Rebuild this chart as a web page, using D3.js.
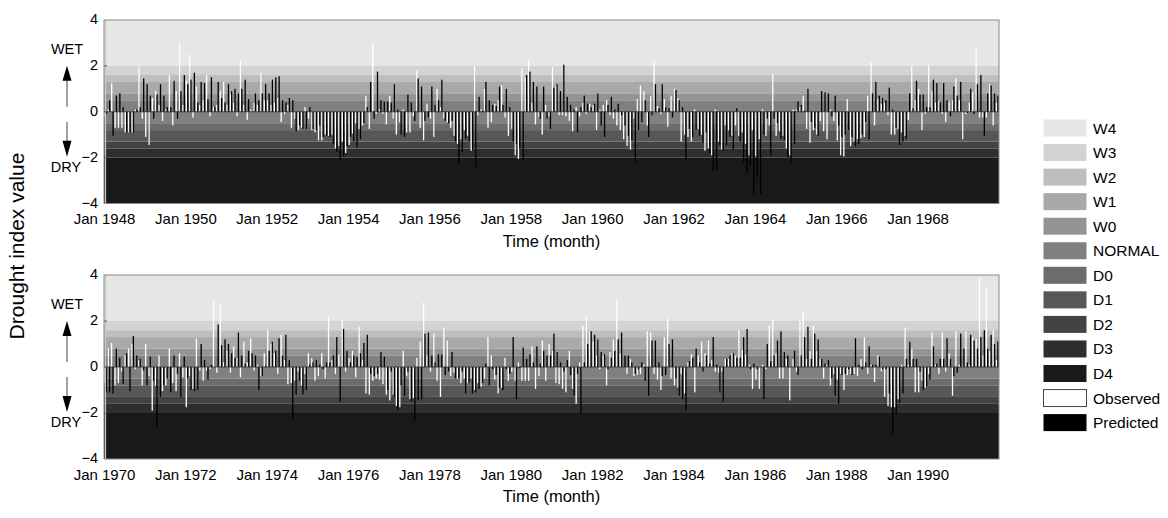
<!DOCTYPE html>
<html>
<head>
<meta charset="utf-8">
<script src="https://cdn.jsdelivr.net/npm/d3@7"></script>
<style>
  body { margin: 0; background: #fff; }
  svg { display: block; font-family: "Liberation Sans", Arial, sans-serif; }
</style>
</head>
<body>
<svg id="chart" width="1168" height="518"></svg>
<script>
// Monthly drought index, Jan 1948 - Dec 1969
const observed1948 = [
  -0.2, 0.1, 1.25, -0.7, -0.7, -0.7, -0.9, -0.9, -0.9, 0.1, 1.95, -0.3,
  -1.1, -1.45, 0.6, 0.9, 0.3, -0.4, 0.1, 1.6, -0.6, 0.9, 3.0, 0.3,
  1.35, 2.5, -0.25, 1.1, 0.3, 0.5, 1.6, -0.2, 0.2, 0.3, 0.9, 1.3,
  0.3, 0.75, 0.4, -0.2, 2.25, 0.3, -0.35, 0.1, 0.4, 0.3, 1.7, 0.5,
  0.5, 0.3, 0.4, 0.6, -0.45, -0.1, 0.3, -0.7, -0.3, -0.8, -0.7, 0.2,
  -0.3, -0.8, -0.9, -1.25, -1.25, -1.0, -1.05, -1.0, -1.6, -1.5, -1.3, -1.8,
  -1.45, -0.95, -0.5, -0.75, -0.6, 0.7, -0.75, 3.0, -0.1, 0.1, -0.1, -0.55,
  0.7, -0.3, -1.0, -0.45, 0.1, -0.9, -0.9, -0.2, 1.8, -0.7, -1.25, 0.35,
  -0.3, -1.1, 1.0, 0.2, -0.3, -0.45, -0.7, -1.05, -1.4, -1.2, -0.8, -1.05,
  -1.7, 2.0, -0.15, 0.1, 1.0, -0.7, -0.45, 0.35, 0.5, 1.15, -0.25, -1.05,
  -0.75, -1.9, -2.05, 1.9, 1.5, 2.25, 0.4, -0.55, -0.25, -1.0, 0.3, -0.2,
  1.95, 1.1, -0.15, -0.15, -0.2, -0.4, -0.85, 0.2, -0.2, 0.4, -0.1, 0.35,
  0.3, -0.8, 0.1, 0.3, 0.5, -0.15, -0.3, -0.6, -0.8, -1.2, -1.5, -1.65,
  -0.3, 0.55, 1.15, 0.9, -0.6, 0.7, 2.2, 0.25, -0.1, 0.55, -0.65, 0.7,
  1.0, 0.6, -1.3, -1.0, -1.1, -1.3, 0.1, -0.75, -1.0, -1.7, -1.6, -1.9,
  0.1, -1.3, -1.65, -0.6, -0.8, -1.05, -0.6, -1.05, -0.9, -1.4, -1.9, -0.8,
  -1.95, -1.2, 0.1, -1.05, -0.6, 1.65, -1.05, -0.85, -1.05, -1.6, -1.9, 0.1,
  0.1, 0.2, 0.7, -0.75, -1.35, -0.8, -1.0, -0.4, -0.85, -1.2, 0.1, -0.4,
  -1.25, -1.9, -1.95, 0.55, -1.5, -1.3, -1.2, -1.15, -1.1, 0.7, 2.15, -0.6,
  0.55, 0.35, 0.4, -0.15, -1.0, -1.0, -0.75, -0.9, -1.05, -0.35, 2.0, 0.5,
  1.0, -0.8, -0.1, 2.05, 0.9, 0.4, 0.45, -0.1, -0.45, 0.45, 0.5, 1.45,
  0.5, -1.2, -0.1, 0.4, 0.85, 2.75, -0.25, -0.25, -0.25, 1.2, -0.6, 0.4
];
const predicted1948 = [
  -0.1, 0.5, -1.05, 0.7, 0.8, 0.2, -0.9, -0.9, -0.9, 0.1, 0.2, 1.45,
  1.2, 0.7, -0.3, 0.75, 1.2, 0.7, 0.2, 0.2, 1.35, -0.3, 0.9, 1.6,
  1.2, 1.4, 1.7, 0.4, 1.3, 1.25, 0.55, 1.5, 0.2, 1.3, 0.6, 0.4,
  1.2, 0.9, 1.0, 0.8, 1.0, 1.4, 0.55, 0.0, 0.8, 0.5, 0.8, 1.2,
  0.8, 1.4, 1.5, 1.55, 0.5, 0.4, 0.6, 0.5, -0.85, -0.6, -0.75, -0.75,
  0.2, -0.75, -0.8, -0.6, -1.1, -1.05, -1.1, -1.4, -1.75, -2.1, -1.95, -1.5,
  -1.1, -1.3, -1.55, -1.2, -0.5, 0.2, 1.3, -0.3, 1.75, 0.5, 0.45, 0.45,
  0.4, 1.2, 0.1, -1.0, -1.1, 0.75, 0.4, -0.4, 1.45, 1.1, -0.4, -0.25,
  1.1, 0.3, 0.5, 1.4, -0.4, -0.5, -0.4, -1.3, -2.25, -1.75, -1.2, -1.3,
  -1.65, -2.4, 0.65, 0.05, 1.3, 0.5, 0.3, 0.25, 1.1, 0.3, 1.0, 0.2,
  -1.3, -1.4, -1.6, -2.1, 1.6, 1.75, 1.3, 1.1, -0.3, 1.1, -0.3, -0.75,
  1.05, 1.2, 0.9, 2.05, 0.65, 0.3, 0.1, -0.9, 0.2, 0.7, 0.35, 0.2,
  0.35, 0.8, -0.6, -1.1, 0.3, 0.65, 0.1, 0.35, -0.15, -0.6, -1.05, -1.25,
  -2.2, -0.8, -0.45, 0.5, -1.1, -0.15, 1.2, 0.15, 1.2, 0.2, 0.15, -0.25,
  0.95, 0.5, 0.2, -2.1, -0.75, -1.1, -0.8, -1.05, -1.35, -0.9, -1.8, -2.55,
  -2.55, -1.45, -1.7, -1.45, -1.1, -1.65, 0.15, -1.3, -2.2, -2.7, -2.35, -3.6,
  -2.85, -3.6, -1.0, -0.3, -1.9, -0.3, -0.5, -1.2, -1.25, -2.0, -2.25, -1.4,
  0.45, 0.3, 0.05, 1.0, -0.45, -0.7, -1.05, 0.9, 0.85, 0.8, -0.2, 0.7,
  -0.6, -1.1, -1.0, -0.8, -1.1, -1.5, -1.4, -1.0, -0.45, -1.2, 0.8, 1.3,
  0.7, 0.6, 0.5, 1.05, 0.1, -0.7, -1.45, -1.3, -1.2, 0.8, 0.15, 1.35,
  0.75, 0.75, 0.2, 0.2, 1.4, 1.25, 0.4, 1.25, 0.5, -0.2, 1.1, 0.7,
  1.3, 0.0, -0.05, 1.0, -0.1, 1.2, 1.6, -1.05, 0.8, 1.15, 0.8, 0.7
];

// Monthly drought index, Jan 1970 - Dec 1991
const observed1970 = [
  -0.7, 0.8, 1.05, -0.8, -0.7, -0.2, 0.5, 0.8, 1.0, -0.1, 0.3, -0.8,
  1.0, -0.4, -1.9, -0.8, 0.5, -1.05, -0.8, 0.8, -0.7, -1.05, 0.6, -0.45,
  -1.75, -0.4, -0.95, 1.25, -0.15, -0.6, -0.15, -0.1, 2.85, -0.25, 2.7, 0.2,
  0.7, -0.25, 0.9, 0.4, -0.45, 1.1, 0.2, 1.25, -0.15, 0.1, -0.4, 0.6,
  1.6, 1.0, 0.6, -0.3, 1.4, 0.3, -0.75, -0.7, -0.6, -0.2, -0.8, -0.3,
  0.6, 0.4, -0.6, -0.4, 0.6, -0.5, 2.2, 0.3, -0.3, 0.55, 2.05, -0.2,
  0.4, 0.7, -0.45, 1.75, 0.3, -1.15, -1.2, -0.6, -0.5, -0.55, -0.75, -1.2,
  -1.45, -1.2, -1.7, -1.75, 0.7, -0.4, -1.4, -1.35, 0.4, 1.1, 2.8, 0.5,
  -0.2, 1.45, -0.6, -1.3, 1.7, 1.15, -0.4, -0.25, -0.5, -0.7, -0.5, -0.7,
  -0.5, -1.0, -0.7, -0.85, -0.5, 1.3, 0.5, -0.55, -1.15, -0.9, 0.4, -0.6,
  -0.2, -0.6, 0.2, -0.6, -0.6, -0.6, 0.9, -0.95, -0.4, 1.15, -0.6, 1.0,
  0.7, -0.7, -0.75, -0.95, -1.1, 0.7, -0.95, -1.6, 0.2, 1.8, 2.15, 1.55,
  1.1, 0.5, -0.1, 0.5, -0.8, 0.65, 1.2, 2.9, 0.6, 0.0, -0.3, 0.35,
  -0.4, -0.35, -0.3, 0.1, 1.55, 1.5, -0.3, -0.55, -1.0, 1.3, 2.1, -0.5,
  -0.8, -0.9, -0.3, -1.15, 0.2, 0.55, -1.1, 0.5, 1.1, 0.6, 1.15, 0.3,
  -0.2, -0.25, -0.2, 0.35, 0.35, 0.6, 0.5, 1.6, 0.75, 0.55, 0.1, -0.95,
  -0.55, -0.95, 0.1, -0.1, 1.8, 2.05, 0.6, -0.5, -0.5, 0.35, -1.45, 0.35,
  -0.2, 2.0, 2.4, 0.35, 0.7, 1.8, 0.7, 0.35, -0.5, 0.1, -0.8, -0.3,
  -0.55, -0.3, -1.0, -0.35, -0.3, -0.3, -0.4, 0.35, 1.3, -0.3, 0.1, -0.65,
  0.5, -0.2, -1.3, -1.7, -1.75, -1.75, -1.4, 0.1, 1.7, 0.1, 0.8, -1.1,
  -1.1, -0.6, -0.9, -0.3, 1.5, 0.1, -0.3, 1.5, -0.2, 0.6, -1.25, 1.55,
  0.1, 0.05, 1.55, 0.1, 1.3, 1.25, 3.9, 0.5, 3.4, 0.7, 1.6, 0.3
];
const predicted1970 = [
  -1.1, -1.1, -1.15, 0.8, 0.4, -0.75, 0.6, -1.05, 1.35, 0.5, 0.35, -0.15,
  -0.8, 0.45, -0.6, -2.6, -1.3, -0.8, -0.5, -1.1, 0.5, -0.3, -1.3, 0.45,
  -0.5, -1.0, -1.05, -1.0, 1.0, 0.3, -0.55, 0.1, 0.0, 1.85, 0.95, 1.2,
  1.0, 0.6, 0.4, 1.5, 0.5, 0.15, 0.7, 0.6, 0.5, -1.0, -0.4, 0.05,
  0.7, 1.1, 0.7, 1.25, 0.5, 1.4, 0.3, -2.25, -1.2, -0.6, -1.2, -1.0,
  0.1, 0.2, 0.3, 0.1, -0.1, 0.2, 0.2, 0.5, 1.3, -1.5, 1.65, 0.7,
  0.2, 0.5, 0.45, 0.6, 1.05, 1.4, -0.3, -0.4, -0.3, 0.65, 0.45, -1.0,
  -0.2, -1.3, -1.85, -0.8, -1.25, -0.2, -1.5, -2.35, -1.45, -1.4, 1.45, 1.5,
  0.5, 0.2, 0.55, 0.55, -0.35, -0.2, 0.65, -0.5, -0.5, -0.2, -1.15, -0.7,
  -1.15, -1.1, -0.95, -0.7, 0.15, -0.8, -0.1, -0.35, -0.9, -1.0, -0.1, -0.3,
  1.3, -1.4, -0.05, 0.85, 0.35, 0.55, 0.2, 0.9, 0.15, 0.7, 0.5, 0.5,
  1.45, 0.65, 0.2, -0.2, 0.3, -0.35, -1.25, -0.3, -2.05, 0.2, 1.0, 1.55,
  1.4, 1.2, 0.65, 0.55, -0.1, 0.4, 0.7, 1.2, 1.5, 0.5, 0.5, 0.2,
  -0.3, -0.1, 0.2, -0.6, -1.25, 1.15, 1.15, 0.2, -0.4, -0.35, 1.0, 1.2,
  -0.5, -1.25, -1.4, -1.9, 0.25, 0.4, 0.8, 0.2, -0.2, 0.5, 0.15, 1.3,
  0.1, -1.1, -1.5, 0.35, 0.5, 0.6, 0.4, 0.4, 1.3, 1.65, -0.1, 0.15,
  -0.1, 0.0, -1.4, 1.0, 0.25, 0.5, 1.15, 1.55, 0.65, 0.5, 0.0, 0.7,
  -0.35, 0.5, 1.3, 1.75, 0.35, 1.45, 1.2, 0.35, 0.15, 0.3, -0.5, -1.25,
  -1.6, -0.35, -0.3, -0.1, -0.35, 1.25, 0.1, -0.1, 0.2, 0.9, 0.1, 0.1,
  0.45, -0.1, -0.1, -1.15, -2.9, -2.05, -1.55, -1.15, 0.35, 1.1, 0.35, 0.35,
  -0.2, -1.0, -0.85, -0.55, 0.9, 0.15, 0.35, 0.35, 1.25, 0.35, -0.4, -0.25,
  1.45, 0.8, 0.2, 1.4, 1.15, 0.8, 1.3, 1.6, 0.8, 1.4, 1.0, 1.1
];

// Drought / wetness classes and their index ranges
const classNames = ["W4", "W3", "W2", "W1", "W0", "NORMAL", "D0", "D1", "D2", "D3", "D4"];
const classUpper = [4, 2.0, 1.6, 1.3, 0.8, 0.5, -0.5, -0.8, -1.3, -1.6, -2.0];
const classLower = [2.0, 1.6, 1.3, 0.8, 0.5, -0.5, -0.8, -1.3, -1.6, -2.0, -4];
const yTickValues = [-4, -2, 0, 2, 4];
const startYears = [1948, 1970];

// Grey ramp for the class bands
const classColors = ["#e6e6e6", "#d3d3d3", "#bebebe", "#a9a9a9", "#949494", "#808080",
                     "#6c6c6c", "#575757", "#434343", "#2e2e2e", "#191919"];

const svg = d3.select("#chart");
const TICK_FONT = 15;
const plotLeft = 104, plotRight = 999;

const panels = [
  { start: startYears[0], obs: observed1948, pred: predicted1948, top: 20, bottom: 203.5 },
  { start: startYears[1], obs: observed1970, pred: predicted1970, top: 275, bottom: 459 }
];

panels.forEach(p => {
  const months = p.obs.map((_, i) => new Date(Date.UTC(p.start, i, 1)));
  const x = d3.scaleUtc()
    .domain([new Date(Date.UTC(p.start, 0, 1)), new Date(Date.UTC(p.start + 22, 0, 1))])
    .range([plotLeft, plotRight]);
  const y = d3.scaleLinear().domain([-4, 4]).range([p.bottom, p.top]);
  const g = svg.append("g");

  // class bands
  g.selectAll("rect.band").data(classNames).join("rect")
    .attr("class", "band")
    .attr("x", plotLeft)
    .attr("width", plotRight - plotLeft)
    .attr("y", (d, i) => y(classUpper[i]))
    .attr("height", (d, i) => y(classLower[i]) - y(classUpper[i]))
    .attr("fill", (d, i) => classColors[i]);

  const monthW = i => x(d3.utcMonth.offset(months[i], 1)) - x(months[i]);

  // observed (white) and predicted (black) bars, side by side in each month
  g.selectAll("rect.obs").data(p.obs).join("rect")
    .attr("class", "obs")
    .attr("x", (d, i) => x(months[i]) + monthW(i) * 0.1)
    .attr("width", (d, i) => monthW(i) * 0.38)
    .attr("y", d => y(Math.max(0, d)))
    .attr("height", d => Math.abs(y(d) - y(0)))
    .attr("fill", "#ffffff");

  g.selectAll("rect.pred").data(p.pred).join("rect")
    .attr("class", "pred")
    .attr("x", (d, i) => x(months[i]) + monthW(i) * 0.5)
    .attr("width", (d, i) => monthW(i) * 0.38)
    .attr("y", d => y(Math.max(0, d)))
    .attr("height", d => Math.abs(y(d) - y(0)))
    .attr("fill", "#000000");

  // zero line
  g.append("line")
    .attr("x1", plotLeft).attr("x2", plotRight)
    .attr("y1", y(0)).attr("y2", y(0))
    .attr("stroke", "#2a2a2a").attr("stroke-width", 0.8);

  // frame, with a light inner edge along the left side
  g.append("line")
    .attr("x1", plotLeft + 1.5).attr("x2", plotLeft + 1.5)
    .attr("y1", p.top).attr("y2", p.bottom)
    .attr("stroke", "#c8c8c8").attr("stroke-width", 1.2);
  g.append("rect")
    .attr("x", plotLeft).attr("y", p.top)
    .attr("width", plotRight - plotLeft).attr("height", p.bottom - p.top)
    .attr("fill", "none").attr("stroke", "#8a8a8a").attr("stroke-width", 1);

  // y axis
  const yAxis = d3.axisLeft(y).tickValues(yTickValues).tickSize(0).tickPadding(6).tickFormat(d3.format("d"));
  const ya = g.append("g").attr("transform", `translate(${plotLeft},0)`).call(yAxis);
  ya.select(".domain").remove();
  ya.selectAll("text").attr("font-size", 14.5).attr("fill", "#000").attr("dy", "0.26em")
    .attr("font-family", "Liberation Sans, Arial, sans-serif");
  g.selectAll("line.ytick").data(yTickValues.slice(1, -1)).join("line")
    .attr("class", "ytick")
    .attr("x1", plotLeft).attr("x2", plotLeft + 3)
    .attr("y1", d => y(d)).attr("y2", d => y(d))
    .attr("stroke", "#555");

  // x axis
  const xTicks = d3.range(0, 22, 2).map(k => new Date(Date.UTC(p.start + k, 0, 1)));
  const xAxis = d3.axisBottom(x).tickValues(xTicks).tickSize(0).tickPadding(10)
    .tickFormat(d3.utcFormat("Jan %Y"));
  const xa = g.append("g").attr("transform", `translate(0,${p.bottom})`).call(xAxis);
  xa.select(".domain").remove();
  xa.selectAll("text").attr("font-size", TICK_FONT).attr("fill", "#000")
    .attr("font-family", "Liberation Sans, Arial, sans-serif");

  g.append("text")
    .attr("x", (plotLeft + plotRight) / 2).attr("y", p.bottom + 43)
    .attr("text-anchor", "middle").attr("font-size", 16.5)
    .text("Time (month)");

  // WET / DRY direction markers
  const y0 = y(0);
  const ax = 67;
  g.append("text").attr("x", ax).attr("y", y0 - 58).attr("text-anchor", "middle")
    .attr("font-size", 14.5).text("WET");
  g.append("text").attr("x", ax - 1).attr("y", y0 + 60).attr("text-anchor", "middle")
    .attr("font-size", 14.5).text("DRY");
  g.append("line").attr("x1", ax).attr("x2", ax).attr("y1", y0 - 5).attr("y2", y0 - 32)
    .attr("stroke", "#444").attr("stroke-width", 1);
  g.append("path")
    .attr("d", `M${ax},${y0 - 46} L${ax - 4.5},${y0 - 31} L${ax + 4.5},${y0 - 31} Z`)
    .attr("fill", "#000");
  g.append("line").attr("x1", ax).attr("x2", ax).attr("y1", y0 + 10).attr("y2", y0 + 30)
    .attr("stroke", "#444").attr("stroke-width", 1);
  g.append("path")
    .attr("d", `M${ax},${y0 + 45} L${ax - 4.5},${y0 + 29} L${ax + 4.5},${y0 + 29} Z`)
    .attr("fill", "#000");
});

// shared y title
svg.append("text")
  .attr("transform", "translate(24,246) rotate(-90)")
  .attr("text-anchor", "middle").attr("font-size", 21)
  .text("Drought index value");

// legend
const legendItems = classNames.map((n, i) => ({ name: n, fill: classColors[i], stroke: "none" }))
  .concat([{ name: "Observed", fill: "#ffffff", stroke: "#444" },
           { name: "Predicted", fill: "#000000", stroke: "none" }]);
const lg = svg.append("g");
const row = lg.selectAll("g").data(legendItems).join("g")
  .attr("transform", (d, i) => `translate(1043,${128 + i * 24.55})`);
row.append("rect")
  .attr("x", 0.5).attr("y", -8.5).attr("width", 43).attr("height", 17)
  .attr("fill", d => d.fill).attr("stroke", d => d.stroke);
row.append("text")
  .attr("x", 50).attr("y", 5.5).attr("font-size", 15.5)
  .text(d => d.name);
</script>
</body>
</html>
